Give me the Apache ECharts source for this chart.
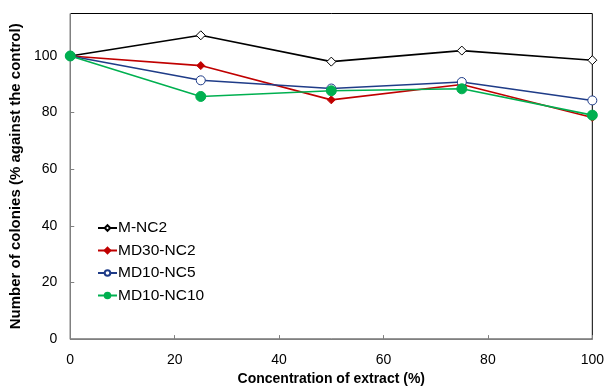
<!DOCTYPE html>
<html><head><meta charset="utf-8">
<script src="https://cdn.jsdelivr.net/npm/echarts@6/dist/echarts.min.js"></script>
<style>html,body{margin:0;padding:0;background:#fff}#c{width:607px;height:391px}</style>
</head><body><div id="c"></div>
<script>
const concentrations = [0, 25, 50, 75, 100];
const mNC2 = [100, 107.3, 98.0, 101.9, 98.5];
const md30NC2 = [100, 96.6, 84.5, 89.9, 78.3];
const md10NC5 = [100, 91.4, 88.5, 90.8, 84.3];
const md10NC10 = [100, 85.7, 87.7, 88.4, 79.1];
const xTicks = [0, 20, 40, 60, 80, 100];
const yTicks = [0, 20, 40, 60, 80, 100];

const pair = arr => concentrations.map((x, i) => [x, arr[i]]);
const font = 'Liberation Sans, Arial, sans-serif';
function mk(name, data, color, symbol, size, filled) {
  return {
    name, type: 'line', data: pair(data), symbol, symbolSize: size,
    lineStyle: { color, width: 1.6 },
    itemStyle: { color: filled ? color : '#fff', borderColor: color, borderWidth: 1 },
    emphasis: { disabled: true }
  };
}
const chart = echarts.init(document.getElementById('c'), null, { renderer: 'canvas' });
chart.setOption({
  animation: false,
  grid: { left: 70, right: 14, top: 13.5, bottom: 47.5, show: true, borderColor: '#000', borderWidth: 1, backgroundColor: 'transparent' },
  legend: {
    orient: 'vertical', left: 92, top: 215, itemGap: 6.5, itemWidth: 19, itemHeight: 7,
    textStyle: { fontFamily: font, fontSize: 15.5, lineHeight: 16, color: '#000', padding: [0, 0, 0, -4] },
    data: ['M-NC2', 'MD30-NC2', 'MD10-NC5', 'MD10-NC10']
  },
  xAxis: {
    type: 'value', min: 0, max: 100, interval: 20,
    name: 'Concentration of extract (%)', nameLocation: 'middle', nameGap: 26,
    nameTextStyle: { fontFamily: font, fontSize: 14, fontWeight: 'bold', color: '#000' },
    axisLine: { lineStyle: { color: '#808080', width: 1 } },
    axisTick: { inside: true, length: 4, lineStyle: { color: '#808080' } },
    axisLabel: { fontFamily: font, fontSize: 14, color: '#000', margin: 14, formatter: v => xTicks.includes(v) ? String(v) : '' },
    splitLine: { show: false }
  },
  yAxis: {
    type: 'value', min: 0, max: 115, interval: 20,
    name: 'Number of colonies (% against the control)', nameLocation: 'middle', nameGap: 31,
    nameTextStyle: { fontFamily: font, fontSize: 15, fontWeight: 'bold', color: '#000' },
    axisLine: { show: true, lineStyle: { color: '#808080', width: 1 } },
    axisTick: { show: true, inside: true, length: 4, lineStyle: { color: '#808080' } },
    axisLabel: { fontFamily: font, fontSize: 14, color: '#000', margin: 13, showMaxLabel: false, formatter: v => yTicks.includes(v) ? String(v) : '' },
    splitLine: { show: false }
  },
  series: [
    mk('M-NC2', mNC2, '#000000', 'diamond', 9, false),
    mk('MD30-NC2', md30NC2, '#c00000', 'diamond', 8, true),
    mk('MD10-NC5', md10NC5, '#1f3c88', 'circle', 9, false),
    mk('MD10-NC10', md10NC10, '#00b050', 'circle', 10, true)
  ]
});
</script></body></html>
